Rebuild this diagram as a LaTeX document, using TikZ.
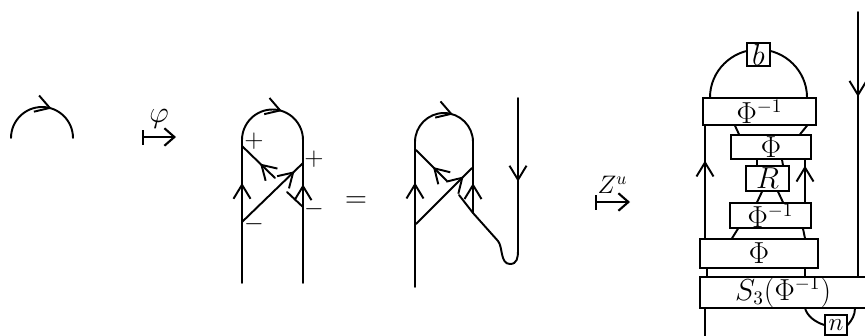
\documentclass[tikz,border=0pt]{standalone}
\usetikzlibrary{arrows.meta,calc,decorations.markings,backgrounds}

\begin{document}
\begin{tikzpicture}[x=0.02cm,y=-0.02cm,
  strand/.style={line width=1.1pt,line cap=round},
  chev/.style={postaction={decorate},decoration={markings,mark=at position #1 with {\arrow{Straight Barb[length=2.8mm,width=3.4mm]}}}},
  box/.style={draw,line width=0.8pt,fill=white,inner sep=0pt,font=\fontsize{16}{18}\selectfont},
  sign/.style={font=\Large},
  mapsto/.style={line width=1.2pt,arrows={Bar[width=3mm]-Straight Barb[length=2mm,width=3.5mm]}}
]
\useasboundingbox (0,0) rectangle (865,335);

% the single arc
\coordinate (c0l) at (11,138);
\coordinate (c0r) at (73,138);
\draw[strand,chev=0.6] (c0l) .. controls (11,120.9) and (24.9,107) .. (42,107) .. controls (59.1,107) and (73,120.9) .. (c0r);

% first map
\coordinate (m1a) at (142,137);
\coordinate (m1b) at (176,137);
\draw[mapsto] (m1a) -- node[above=1pt,font=\LARGE] (phi) {$\varphi$} (m1b);

% diagram with signs
\coordinate (p1) at (242,283);
\coordinate (p2) at (242,140);
\coordinate (p3) at (303,140);
\coordinate (p4) at (303,283);
\draw[strand,chev=0.7] (p1) -- (p2);
\draw[strand,chev=0.6] (p2) .. controls (242,123.2) and (255.7,109.5) .. (272.5,109.5) .. controls (289.3,109.5) and (303,123.2) .. (p3);
\draw[strand,chev=0.69] (p4) -- (p3);
\draw[strand,chev=0.45] (275,178) -- (242,146);
\draw[strand,chev=0.86] (242,222) -- (303,163);
\draw[strand] (287,192) -- (303,207);
\node[sign] (s1) at (254,141) {$+$};
\node[sign] (s2) at (314,159) {$+$};
\node[sign] (s3) at (314,209) {$-$};
\node[sign] (s4) at (254,224) {$-$};

\node[font=\LARGE] (eq) at (356,202) {$=$};

% diagram with the cup
\coordinate (q1) at (415,287);
\coordinate (q2) at (415,142);
\coordinate (q3) at (473,142);
\coordinate (q4) at (473,213);
\coordinate (q5) at (518,98);
\coordinate (q6) at (518,250);
\draw[strand,chev=0.72] (q1) -- (q2);
\draw[strand,chev=0.6] (q2) .. controls (415,126) and (428,113) .. (444,113) .. controls (460,113) and (473,126) .. (q3);
\draw[strand,chev=0.42] (q4) -- (q3);
\draw[strand,chev=0.45] (447,181) -- (416,150);
\draw[strand,chev=0.85] (416,224) -- (472,168);
\draw[strand] (459,195) -- (q4);
\draw[strand] (q4) -- (498,241) .. controls (503,247) and (500,264) .. (510,264) .. controls (517,264) and (518,258) .. (q6);
\draw[strand,chev=0.55] (q5) -- (q6);

% second map
\coordinate (m2a) at (595,202);
\coordinate (m2b) at (630,202);
\draw[mapsto] (m2a) -- node[above=1pt,font=\Large] (zu) {$Z^u$} (m2b);

% boxes
\node[box,minimum width=0.46cm,minimum height=0.46cm] (b) at (758.5,54.5) {$b$};
\node[box,minimum width=2.26cm,minimum height=0.54cm] (phiA) at (759.5,111.5) {$\Phi^{-1}$};
\node[box,minimum width=1.6cm,minimum height=0.48cm] (phiB) at (771,147) {$\Phi$};
\node[box,minimum width=0.86cm,minimum height=0.5cm] (R) at (767.5,178.5) {$R$};
\node[box,minimum width=1.62cm,minimum height=0.5cm] (phiC) at (770.5,215.5) {$\Phi^{-1}$};
\node[box,minimum width=2.36cm,minimum height=0.58cm] (phiD) at (759,253.5) {$\Phi$};
\coordinate (s3nw) at (700,277);
\draw[line width=0.8pt] (s3nw) rectangle (885,308);
\node[font=\fontsize{16}{18}\selectfont] (S3) at (783,292.5) {$S_3(\Phi^{-1})$};
\node[box,font=\Large,minimum width=0.44cm,minimum height=0.4cm] (n) at (836,325) {$n$};

\begin{scope}[on background layer]
\draw[strand] (710,0 |- phiA.north) .. controls (710,71.2) and (731.7,49.5) .. (758.5,49.5) .. controls (785.3,49.5) and (807,71.2) .. (807,0 |- phiA.north);
\draw[strand,chev=0.69] (705,0 |- phiD.north) -- (705,0 |- phiA.south);
\draw[strand] (735,0 |- phiA.south) -- (739,0 |- phiB.north);
\draw[strand] (807,0 |- phiA.south) -- (800,0 |- phiB.north);
\draw[strand] (757,0 |- phiB.south) -- (757,0 |- R.north);
\draw[strand] (782,0 |- phiB.south) -- (783,0 |- R.north);
\draw[strand,chev=0.86] (805,0 |- phiC.north) -- (805,0 |- phiB.south);
\draw[strand] (762,0 |- R.south) -- (757,0 |- phiC.north);
\draw[strand] (778,0 |- R.south) -- (783,0 |- phiC.north);
\draw[strand] (738,0 |- phiC.south) -- (732,0 |- phiD.north);
\draw[strand] (803,0 |- phiC.south) -- (805,0 |- phiD.north);
\draw[strand] (707,0 |- phiD.south) -- (707,0 |- s3nw);
\draw[strand] (805,0 |- phiD.south) -- (805,0 |- s3nw);
\draw[strand,chev=0.32] (858,12) -- (858,0 |- s3nw);
\draw[strand] (705,308) -- (705,340);
\draw[strand] (805,308) .. controls (807,316) and (815,322) .. (n.west);
\draw[strand] (n.east) .. controls (852,320) and (855,315) .. (855,308);
\end{scope}
\end{tikzpicture}
\end{document}
